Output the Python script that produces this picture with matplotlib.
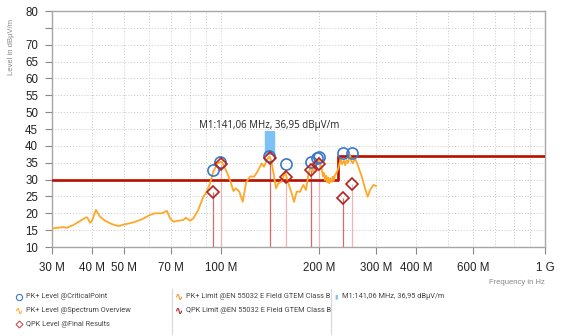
import matplotlib
matplotlib.use("Agg")
import matplotlib.pyplot as plt
from matplotlib.lines import Line2D
from matplotlib.ticker import FixedLocator, NullFormatter

plt.rcParams['font.family'] = ['Liberation Sans', 'DejaVu Sans']

# spectrum overview (PK+), frequency in MHz, level in dBuV/m
trace_freq = [30.0, 32.5, 33.3, 34.9, 36.6, 38.2, 38.6, 39.3, 39.8, 41.0, 42.2, 43.7,
              45.9, 48.1, 49.8, 53.5, 56.8, 60.2, 62.4, 65.5, 67.9, 69.5, 71.1, 73.7,
              76.3, 77.8, 80.1, 82.0, 84.9, 88.0, 90.2, 92.3, 94.5, 97.2, 100.3, 103.4,
              106.4, 109.0, 111.1, 113.7, 116.5, 119.3, 122.7, 126.5, 130.1, 133.3, 135.5,
              138.2, 141.1, 143.2, 144.8, 147.6, 150.0, 153.7, 157.4, 161.1, 165.1, 167.8,
              171.0, 175.1, 179.2, 182.7, 185.7, 188.9, 192.4, 197.1, 200.8, 204.3, 206.0,
              207.5, 209.2, 211.0, 212.5, 214.1, 215.5, 217.0, 219.4, 221.0, 222.5, 224.6,
              227.0, 229.9, 233.9, 236.0, 239.4, 241.5, 244.1, 246.5, 249.9, 252.0, 254.8,
              259.0, 265.1, 271.6, 278.0, 283.4, 288.1, 294.9, 300.6]
trace_level = [15.5, 15.9, 15.7, 16.5, 17.7, 18.8, 18.7, 17.2, 17.6, 21.0, 19.0, 17.8,
               16.8, 16.2, 16.6, 17.3, 18.2, 19.5, 20.0, 20.0, 20.7, 18.5, 17.5, 17.8,
               18.0, 18.7, 17.8, 18.5, 21.0, 24.9, 26.4, 28.9, 32.3, 34.8, 35.3, 32.8,
               29.9, 26.6, 27.4, 26.4, 23.4, 29.1, 30.9, 30.9, 32.8, 34.8, 33.8,
               35.8, 36.9, 34.8, 32.3, 27.4, 28.9, 29.4, 32.3, 28.9, 25.9, 23.4,
               26.4, 26.4, 28.4, 26.9, 31.4, 33.8, 32.3, 34.8, 35.8, 33.3, 31.0,
               32.0, 29.8, 31.2, 29.2, 30.6, 28.9, 30.4, 29.3, 30.9, 29.6, 31.4,
               32.0, 33.3, 36.3, 34.5, 35.6, 34.2, 35.8, 35.0, 37.3, 35.6, 34.8,
               36.3, 33.8, 30.9, 27.4, 24.9, 26.9, 28.4, 28.1]

# PK+ critical points
pk_freq = [94.5, 99.1, 140.8, 158.0, 188.9, 197.5, 200.8, 237.5, 254.0]
pk_level = [32.8, 35.3, 37.0, 34.5, 35.2, 36.3, 36.8, 38.0, 38.0]

# QPK final results
qpk_freq = [94.5, 99.5, 141.1, 158.0, 188.9, 200.5, 238.5, 253.0]
qpk_level = [26.2, 34.6, 36.5, 30.9, 32.8, 34.5, 24.6, 28.7]

# EN 55032 class B limits
limit_freq = [30, 230, 230, 1000]
limit_level = [30, 30, 37, 37]

m1_freq = 141.06
m1_level = 36.95

xtick_vals = [30, 40, 50, 70, 100, 200, 300, 400, 600, 1000]
xtick_labels = ['30 M', '40 M', '50 M', '70 M', '100 M', '200 M', '300 M', '400 M', '600 M', '1 G']
xgrid_vals = [30, 40, 50, 60, 70, 80, 90, 100, 200, 300, 400, 500, 600, 700, 800, 900, 1000]
ytick_vals = [10, 15, 20, 25, 30, 35, 40, 45, 50, 55, 60, 65, 70, 75, 80]
ytick_labels = ['10', '15', '20', '25', '30', '35', '40', '45', '50', '55', '60', '65', '70', '', '80']

orange = '#ffa726'
darkred = '#b40d0d'
blue = '#3b78c8'
diamond_red = '#b52020'

fig = plt.figure(figsize=(5.62, 3.36), dpi=100)
ax = fig.add_axes([52 / 562, 1 - 247 / 336, 493 / 562, 236 / 336])

ax.set_xscale('log')
ax.set_xlim(30, 1000)
ax.set_ylim(10, 80)

# vertical lines from bottom to final results
for i, (f, l) in enumerate(zip(qpk_freq, qpk_level)):
    c = '#d86a6a' if i % 2 == 0 else '#f0b4b4'
    ax.vlines(f, 10, l, colors=c, lw=0.9, zorder=2)

ax.plot(limit_freq, limit_level, color=orange, lw=1.8, zorder=3)
ax.plot(limit_freq, limit_level, color=darkred, lw=1.8, zorder=3)
ax.plot(trace_freq, trace_level, color=orange, lw=1.3, zorder=4)

ax.plot(pk_freq, pk_level, ls='none', marker='o', ms=8, mfc='none', mec=blue, mew=1.2, zorder=5)
ax.plot(qpk_freq, qpk_level, ls='none', marker='D', ms=6.5, mfc='none', mec=diamond_red, mew=1.2, zorder=6)

# marker M1
ax.vlines(m1_freq, m1_level + 0.4, m1_level + 7.5, colors='#7cc3f5', lw=7.5, zorder=4)
ax.text(m1_freq, m1_level + 9.0, 'M1:141,06 MHz, 36,95 dBµV/m', ha='center', va='center',
        fontsize=7, color='#222222', family=['Open Sans', 'DejaVu Sans'])

ax.xaxis.set_major_locator(FixedLocator(xtick_vals))
ax.set_xticklabels(xtick_labels)
ax.xaxis.set_minor_locator(FixedLocator(xgrid_vals))
ax.xaxis.set_minor_formatter(NullFormatter())
ax.set_yticks(ytick_vals)
ax.set_yticklabels(ytick_labels)

ax.tick_params(axis='both', which='major', labelsize=8.3, colors='#888888', labelcolor='#222222',
               length=5, width=0.8)
ax.tick_params(axis='x', which='major', pad=6)
ax.tick_params(axis='y', which='major', pad=5)
ax.tick_params(axis='x', which='minor', length=0)

ax.grid(True, axis='x', which='both', ls=(0, (1, 2)), color='#c8c8c8', lw=0.7)
ax.grid(True, axis='y', which='major', ls=(0, (1, 2)), color='#c8c8c8', lw=0.7)
ax.set_axisbelow(True)
for s in ax.spines.values():
    s.set_color('#a6a6a6')
    s.set_linewidth(1.0)

fig.text(12 / 562, 1 - 47 / 336, 'Level in dBµV/m', rotation=90, ha='center', va='center',
         fontsize=5.5, color='#888888')
fig.text(545 / 562, 1 - 283 / 336, 'Frequency in Hz', ha='right', va='center',
         fontsize=5.5, color='#888888')

# legend drawn by hand, three columns
leg_font = ['Roboto', 'DejaVu Sans']
leg_size = 5.3
rows = [1 - 296.7 / 336, 1 - 310.7 / 336, 1 - 324 / 336]
fig.add_artist(Line2D([19 / 562], [rows[0]], marker='o', ms=4.5, mfc='none', mec=blue, mew=0.8,
                      transform=fig.transFigure))
fig.text(19 / 562, rows[1], '∿', ha='center', va='center', fontsize=7, color=orange,
         family='DejaVu Sans', weight='bold')
fig.add_artist(Line2D([19 / 562], [rows[2]], marker='D', ms=3.5, mfc='none', mec='#d05050', mew=0.8,
                      transform=fig.transFigure))
col1 = ['PK+ Level @CriticalPoint', 'PK+ Level @Spectrum Overview', 'QPK Level @Final Results']
for r, t in zip(rows, col1):
    fig.text(26 / 562, r, t, ha='left', va='center', fontsize=leg_size, color='#444444', family=leg_font)

fig.text(179 / 562, rows[0], '∿', ha='center', va='center', fontsize=7, color='#f08c1a',
         family='DejaVu Sans', weight='bold')
fig.text(179 / 562, rows[1], '∿', ha='center', va='center', fontsize=7, color=darkred,
         family='DejaVu Sans', weight='bold')
col2 = ['PK+ Limit @EN 55032 E Field GTEM Class B', 'QPK Limit @EN 55032 E Field GTEM Class B']
for r, t in zip(rows, col2):
    fig.text(186 / 562, r, t, ha='left', va='center', fontsize=leg_size, color='#444444', family=leg_font)

fig.text(336 / 562, rows[0], '▮', ha='center', va='center', fontsize=4.5, color='#7cc3f5',
         family='DejaVu Sans')
fig.text(342 / 562, rows[0], 'M1:141,06 MHz, 36,95 dBµV/m', ha='left', va='center', fontsize=leg_size,
         color='#444444', family=leg_font)

for xs in (172, 331):
    fig.add_artist(Line2D([xs / 562, xs / 562], [1 - 289 / 336, 1 - 334 / 336], color='#d8d8d8',
                          lw=0.8, transform=fig.transFigure))

fig.savefig('out.png', dpi=100)
